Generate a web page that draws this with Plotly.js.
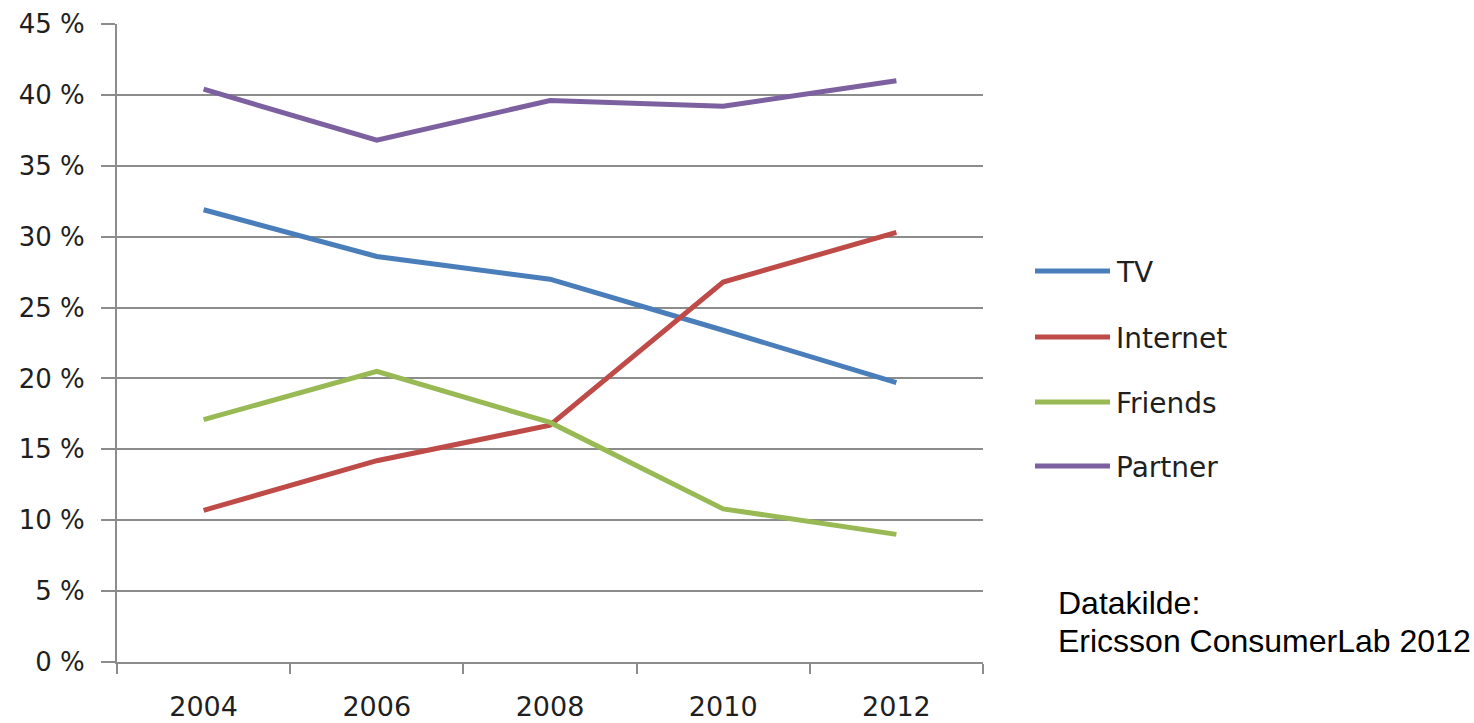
<!DOCTYPE html>
<html>
<head>
<meta charset="utf-8">
<script src="https://cdn.plot.ly/plotly-3.0.1.min.js"></script>
<style>
  html, body { margin: 0; padding: 0; background: #fff; }
  #chart { width: 1474px; height: 723px; }
</style>
</head>
<body>
<div id="chart"></div>
<script>
// Survey years
const years = ['2004', '2006', '2008', '2010', '2012'];

// Share of respondents (%) per source
const tv       = [31.9, 28.6, 27.0, 23.4, 19.7];
const internet = [10.7, 14.2, 16.7, 26.8, 30.3];
const friends  = [17.1, 20.5, 16.9, 10.8, 9.0];
const partner  = [40.4, 36.8, 39.6, 39.2, 41.0];

const seriesNames = ['TV', 'Internet', 'Friends', 'Partner'];
const seriesValues = [tv, internet, friends, partner];
const seriesColors = ['#4A7EBB', '#BE4B48', '#98B954', '#7D60A0'];

const sourceLines = ['Datakilde:', 'Ericsson ConsumerLab 2012'];

const textColor = '#1f1f1f';
const gridColor = '#8c8c8c';
const uiFamily = 'DejaVu Sans, Verdana, sans-serif';

const traces = seriesNames.map((name, i) => ({
  type: 'scatter',
  mode: 'lines',
  name: name,
  x: years,
  y: seriesValues[i],
  line: { color: seriesColors[i], width: 5 },
  showlegend: false,
  hoverinfo: 'x+y+name'
}));

// Plot area geometry in pixels, used to place the side legend and note
const plotLeft = 117, plotRight = 983, plotTop = 24, plotBottom = 662;
const W = plotRight - plotLeft, H = plotBottom - plotTop;
const px = v => (v - plotLeft) / W;
const py = v => (plotBottom - v) / H;

const legendRows = [271, 337, 402, 466];
const shapes = [];
const annotations = [];
seriesNames.forEach((name, i) => {
  shapes.push({
    type: 'line', xref: 'paper', yref: 'paper',
    x0: px(1035), x1: px(1110), y0: py(legendRows[i]), y1: py(legendRows[i]),
    line: { color: seriesColors[i], width: 5 }
  });
  annotations.push({
    xref: 'paper', yref: 'paper', x: px(1114), y: py(legendRows[i] + 1),
    xanchor: 'left', yanchor: 'middle', showarrow: false,
    text: name, font: { family: uiFamily, size: 28, color: textColor }
  });
});
const noteRows = [603, 641];
sourceLines.forEach((t, i) => {
  annotations.push({
    xref: 'paper', yref: 'paper', x: px(1056), y: py(noteRows[i]),
    xanchor: 'left', yanchor: 'middle', showarrow: false,
    text: t, font: { family: 'Liberation Sans, Arial, sans-serif', size: 32, color: '#000' }
  });
});

const layout = {
  width: 1474, height: 723,
  margin: { l: plotLeft, r: 1474 - plotRight, t: plotTop, b: 723 - plotBottom },
  paper_bgcolor: '#fff', plot_bgcolor: '#fff',
  showlegend: false,
  xaxis: {
    type: 'category',
    range: [-0.5, 4.5],
    tickson: 'boundaries',
    ticks: 'outside', ticklen: 10, tickwidth: 2, tickcolor: gridColor,
    showline: true, linecolor: gridColor, linewidth: 2,
    showgrid: false, zeroline: false,
    tickfont: { family: uiFamily, size: 27, color: textColor },
    ticklabelstandoff: 20,
    fixedrange: true
  },
  yaxis: {
    range: [0, 45],
    dtick: 5, tick0: 0,
    ticksuffix: ' %',
    ticks: 'outside', ticklen: 14, tickwidth: 2, tickcolor: gridColor,
    showline: true, linecolor: gridColor, linewidth: 2,
    showgrid: true, gridcolor: gridColor, gridwidth: 2,
    zeroline: false,
    tickfont: { family: uiFamily, size: 26, color: textColor },
    ticklabelstandoff: 11,
    fixedrange: true
  },
  shapes: shapes,
  annotations: annotations
};

Plotly.newPlot('chart', traces, layout, { displayModeBar: false, staticPlot: true });
</script>
</body>
</html>
